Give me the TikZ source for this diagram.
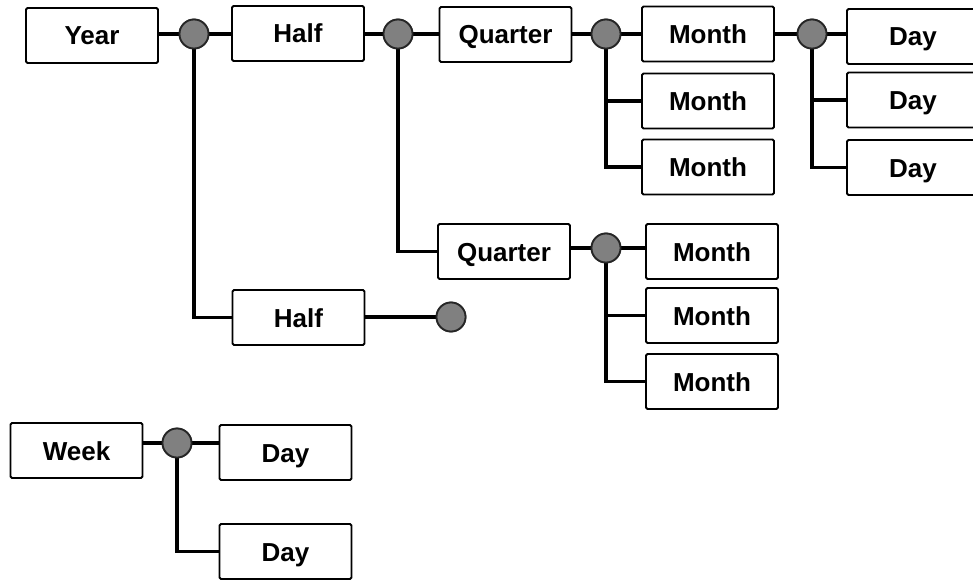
\documentclass[tikz,border=0pt]{standalone}
\usepackage{fontspec}
\setmainfont{Liberation Sans}
\begin{document}
\begin{tikzpicture}[x=1pt,y=-1pt,
  unitbox/.style={draw=black,line width=1.8pt,rounded corners=1.5pt,fill=white,
    minimum width=132pt,minimum height=55pt,inner sep=0pt,
    text height=19pt,text depth=0pt,
    font=\fontsize{26}{29}\selectfont\bfseries},
  hub/.style={circle,draw=black!85,line width=1.8pt,fill=black!50,
    minimum size=29pt,inner sep=0pt},
  link/.style={line width=3.3pt,black}]
\useasboundingbox (0,0) rectangle (973,580);
\clip (0,0) rectangle (973,580);

% calendar hierarchy boxes
\node[unitbox] (year) at (92,35.5) {Year};
\node[unitbox] (half1) at (298,33.5) {Half};
\node[unitbox] (q1) at (505.5,34.5) {Quarter};
\node[unitbox] (m1) at (708,34) {Month};
\node[unitbox] (m2) at (708,101) {Month};
\node[unitbox] (m3) at (708,167) {Month};
\node[unitbox] (d1) at (913,36.5) {Day};
\node[unitbox] (d2) at (913,100) {Day};
\node[unitbox] (d3) at (913,167.5) {Day};
\node[unitbox] (q2) at (504,251.5) {Quarter};
\node[unitbox] (m4) at (712,251.5) {Month};
\node[unitbox] (m5) at (712,315.5) {Month};
\node[unitbox] (m6) at (712,381.5) {Month};
\node[unitbox] (half2) at (298.5,317.5) {Half};
\node[unitbox] (week) at (76.5,450.5) {Week};
\node[unitbox] (wd1) at (285.5,452.5) {Day};
\node[unitbox] (wd2) at (285.5,551.5) {Day};

% branching hubs
\node[hub] (c1) at (194,34) {};
\node[hub] (c2) at (398,34) {};
\node[hub] (c3) at (606,34) {};
\node[hub] (c4) at (812,34) {};
\node[hub] (c5) at (606,248) {};
\node[hub] (c6) at (451,317) {};
\node[hub] (c7) at (177,443) {};

% connectors
\draw[link] (year.east |- c1) -- (c1);
\draw[link] (c1) -- (c1 -| half1.west);
\draw[link] (c1) -- (c1 |- half2.west) -- (half2.west);

\draw[link] (half1.east |- c2) -- (c2);
\draw[link] (c2) -- (c2 -| q1.west);
\draw[link] (c2) -- (c2 |- q2.west) -- (q2.west);

\draw[link] (q1.east |- c3) -- (c3);
\draw[link] (c3) -- (c3 -| m1.west);
\draw[link] (c3) -- (c3 |- m3.west) -- (m3.west);
\draw[link] (c3 |- m2.west) -- (m2.west);

\draw[link] (m1.east |- c4) -- (c4);
\draw[link] (c4) -- (c4 -| d1.west);
\draw[link] (c4) -- (c4 |- d3.west) -- (d3.west);
\draw[link] (c4 |- d2.west) -- (d2.west);

\draw[link] (q2.east |- c5) -- (c5);
\draw[link] (c5) -- (c5 -| m4.west);
\draw[link] (c5) -- (c5 |- m6.west) -- (m6.west);
\draw[link] (c5 |- m5.west) -- (m5.west);

\draw[link] (half2.east |- c6) -- (c6);

\draw[link] (week.east |- c7) -- (c7);
\draw[link] (c7) -- (c7 -| wd1.west);
\draw[link] (c7) -- (c7 |- wd2.west) -- (wd2.west);

% redraw hubs over the line ends
\foreach \h/\x/\y in {c1/194/34,c2/398/34,c3/606/34,c4/812/34,c5/606/248,c6/451/317,c7/177/443}
  \node[hub] at (\x,\y) {};
\end{tikzpicture}
\end{document}
